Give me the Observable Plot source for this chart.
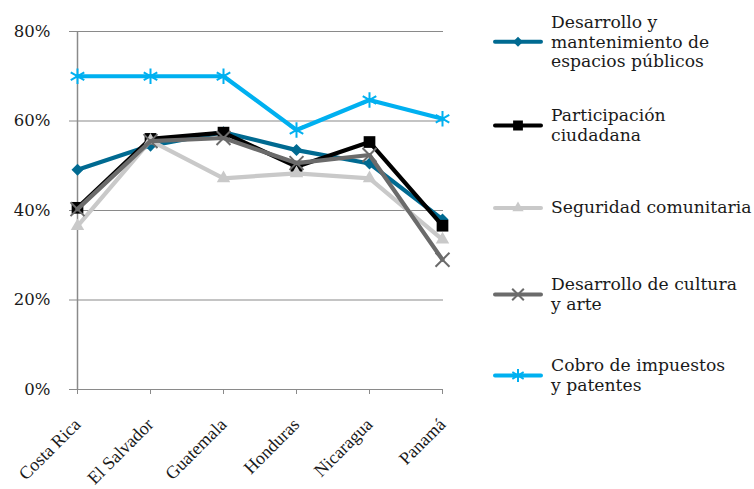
<!DOCTYPE html>
<html><head><meta charset="utf-8">
<script src="https://cdn.jsdelivr.net/npm/d3@7"></script>
<script src="https://cdn.jsdelivr.net/npm/@observablehq/plot@0.6"></script>
<style>
body{margin:0;background:#fff;}
#wrap{position:relative;width:754px;height:489px;overflow:hidden;background:#fff;}
.leg{position:absolute;left:493px;display:flex;align-items:center;transform:translateY(-50%);font-family:"DejaVu Serif",serif;font-size:17.2px;line-height:19.5px;color:#1a1a1a;white-space:nowrap;}
.leg svg{flex:none;margin-right:8px;}
</style></head><body><div id="wrap"></div>
<script>
const countries = ["Costa Rica", "El Salvador", "Guatemala", "Honduras", "Nicaragua", "Panamá"];
const seriesNames = [
  "Desarrollo y mantenimiento de espacios públicos",
  "Participación ciudadana",
  "Seguridad comunitaria",
  "Desarrollo de cultura y arte",
  "Cobro de impuestos y patentes"
];
const legendLines = [
  ["Desarrollo y", "mantenimiento de", "espacios públicos"],
  ["Participación", "ciudadana"],
  ["Seguridad comunitaria"],
  ["Desarrollo de cultura", "y arte"],
  ["Cobro de impuestos", "y patentes"]
];
const desarrollo    = [49.1, 54.5, 57.5, 53.5, 50.5, 38.0];
const participacion = [40.6, 56.0, 57.4, 49.8, 55.3, 36.6];
const seguridad     = [36.5, 55.6, 47.2, 48.3, 47.2, 33.5];
const cultura       = [40.3, 55.5, 56.2, 50.6, 52.4, 29.0];
const cobro         = [70.0, 70.0, 70.0, 58.0, 64.7, 60.5];
const yTicks = [0, 20, 40, 60, 80];

const seriesValues = [desarrollo, participacion, seguridad, cultura, cobro];
const colors = ["#006a91", "#000000", "#c9c9c9", "#6b6b6b", "#00b0f0"];
const symbols = ["square", "square", "triangle", "times", "asterisk"];
const rotations = [45, 0, 0, 0, 0];
const radii = [4.8, 6.6, 5.0, 6.4, 7.4];
const filled = [true, true, true, false, false];

const rows = seriesNames.flatMap((s, i) => countries.map((c, j) => ({series: s, country: c, value: seriesValues[i][j]})));

const marks = [
  Plot.ruleY(yTicks, {stroke: "#8a8a8a", strokeWidth: 1.2}),
  Plot.ruleX([countries[0]], {y1: 0, y2: 80, stroke: "#8a8a8a", strokeWidth: 1.5}),
  Plot.axisY({ticks: yTicks, label: null, tickSize: 6, tickPadding: 19, stroke: "#8a8a8a", tickFormat: d => d + "%", fontSize: 16.5, fontFamily: "DejaVu Serif", fill: "#1a1a1a"}),
  Plot.axisX({label: null, tickSize: 5, tickPadding: 27, stroke: "#8a8a8a", tickRotate: -45, fontSize: 18, fontFamily: "Liberation Serif", fill: "#1a1a1a"})
];
seriesNames.forEach((s, i) => {
  const data = rows.filter(d => d.series === s);
  marks.push(Plot.lineY(data, {x: "country", y: "value", stroke: colors[i], strokeWidth: 4.2}));
  marks.push(Plot.dot(data, {
    x: "country", y: "value", symbol: symbols[i], r: radii[i], rotate: rotations[i],
    fill: filled[i] ? colors[i] : "none", stroke: filled[i] ? "none" : colors[i], strokeWidth: filled[i] ? 0 : 2
  }));
});

const chart = Plot.plot({
  width: 754, height: 489,
  marginLeft: 75, marginRight: 311, marginTop: 31, marginBottom: 100,
  style: {fontFamily: "DejaVu Serif", fontSize: "16px", background: "white", overflow: "visible"},
  x: {type: "point", domain: countries, padding: 0, axis: null},
  y: {domain: [0, 80], axis: null},
  marks
});
const wrap = document.getElementById("wrap");
wrap.appendChild(chart);

const centers = [42, 125, 208, 294, 375];
const svgNS = "http://www.w3.org/2000/svg";
seriesNames.forEach((s, i) => {
  const div = document.createElement("div");
  div.className = "leg";
  div.style.top = centers[i] + "px";
  const symType = {square: d3.symbolSquare, triangle: d3.symbolTriangle, times: d3.symbolTimes, asterisk: d3.symbolAsterisk}[symbols[i]];
  const path = d3.symbol(symType, Math.PI * radii[i] * radii[i] * 0.7)();
  const svg = document.createElementNS(svgNS, "svg");
  svg.setAttribute("width", 50); svg.setAttribute("height", 20);
  const ln = document.createElementNS(svgNS, "line");
  ln.setAttribute("x1", 2); ln.setAttribute("x2", 48); ln.setAttribute("y1", 10); ln.setAttribute("y2", 10);
  ln.setAttribute("stroke", colors[i]); ln.setAttribute("stroke-width", 4); ln.setAttribute("stroke-linecap", "round");
  svg.appendChild(ln);
  const p = document.createElementNS(svgNS, "path");
  p.setAttribute("d", path);
  p.setAttribute("transform", `translate(25,10) rotate(${rotations[i]})`);
  if (filled[i]) { p.setAttribute("fill", colors[i]); }
  else { p.setAttribute("fill", "none"); p.setAttribute("stroke", colors[i]); p.setAttribute("stroke-width", 2); }
  svg.appendChild(p);
  div.appendChild(svg);
  const txt = document.createElement("div");
  txt.innerHTML = legendLines[i].join("<br>");
  div.appendChild(txt);
  wrap.appendChild(div);
});
</script></body></html>
